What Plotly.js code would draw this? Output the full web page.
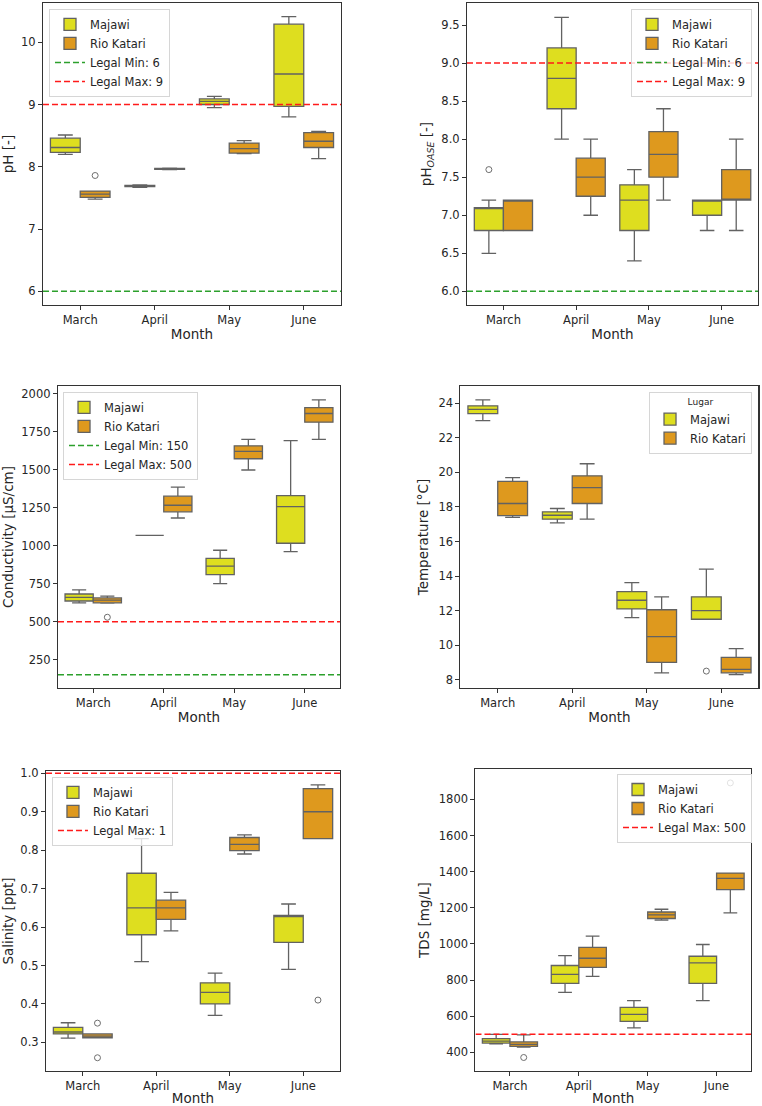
<!DOCTYPE html>
<html>
<head>
<meta charset="utf-8">
<script src="https://cdn.plot.ly/plotly-3.0.1.min.js"></script>
<style>
  html, body { margin: 0; padding: 0; background: #ffffff; }
  #chart { width: 762px; height: 1106px; }
</style>
</head>
<body>
<div id="chart"></div>
<script>
// Water quality by month for the two sampling sites.
const months = ["March", "April", "May", "June"];
const sites = ["Majawi", "Rio Katari"];

// Each row (one per month): [lower whisker, Q1, median, Q3, upper whisker]
const phMajawi = [[8.20, 8.23, 8.31, 8.46, 8.51], [7.67, 7.68, 7.69, 7.70, 7.71], [8.95, 9.00, 9.05, 9.09, 9.13], [8.80, 8.97, 9.49, 10.29, 10.41]];
const phKatari = [[7.48, 7.51, 7.56, 7.61, 7.61], [7.955, 7.96, 7.965, 7.975, 7.98], [8.21, 8.22, 8.29, 8.38, 8.42], [8.13, 8.31, 8.41, 8.55, 8.57]];
const phKatariOutliers = [[0, 7.86]];          // [month index, value]

const oaseMajawi = [[6.5, 6.8, 7.1, 7.1, 7.2], [8.0, 8.4, 8.8, 9.2, 9.6], [6.4, 6.8, 7.2, 7.4, 7.6], [6.8, 7.0, 7.2, 7.2, 7.2]];
const oaseKatari = [[6.8, 6.8, 7.2, 7.2, 7.2], [7.0, 7.25, 7.5, 7.75, 8.0], [7.2, 7.5, 7.8, 8.1, 8.4], [6.8, 7.2, 7.2, 7.6, 8.0]];
const oaseMajawiOutliers = [[0, 7.6]];

const condMajawi = [[623, 636, 660, 682, 709], [1068, 1068, 1068, 1068, 1068], [750, 810, 865, 917, 970], [961, 1016, 1257, 1330, 1692]];
const condKatari = [[622, 624, 641, 656, 668], [1182, 1223, 1266, 1326, 1385], [1498, 1572, 1621, 1657, 1700], [1700, 1813, 1870, 1908, 1960]];
const condKatariOutliers = [[0, 529]];

const tempMajawi = [[23.0, 23.4, 23.65, 23.85, 24.2], [17.08, 17.29, 17.52, 17.72, 17.91], [11.6, 12.1, 12.6, 13.1, 13.62], [11.5, 11.5, 12.0, 12.8, 14.4]];
const tempKatari = [[17.4, 17.5, 18.2, 19.48, 19.7], [17.3, 18.2, 19.12, 19.8, 20.5], [8.4, 9.0, 10.5, 12.05, 12.8], [8.3, 8.4, 8.6, 9.3, 9.8]];
const tempMajawiOutliers = [[3, 8.5]];

const salMajawi = [[0.311, 0.322, 0.327, 0.339, 0.351], [0.51, 0.58, 0.65, 0.74, 0.83], [0.37, 0.40, 0.43, 0.455, 0.48], [0.49, 0.56, 0.63, 0.63, 0.66]];
const salKatari = [[0.312, 0.312, 0.316, 0.322, 0.322], [0.59, 0.62, 0.65, 0.67, 0.69], [0.79, 0.799, 0.815, 0.833, 0.84], [0.83, 0.83, 0.90, 0.96, 0.97]];
const salKatariOutliers = [[0, 0.35], [0, 0.26], [3, 0.41]];

const tdsMajawi = [[448, 452, 463, 476, 500], [732, 782, 832, 881, 935], [536, 572, 611, 649, 687], [687, 782, 895, 932, 997]];
const tdsKatari = [[430, 433, 445, 458, 497], [821, 871, 921, 981, 1043], [1132, 1141, 1161, 1177, 1192], [1172, 1301, 1363, 1392, 1392]];
const tdsKatariOutliers = [[0, 372], [3, 1891]];

// Regulatory limits drawn as dashed reference lines
const phLimits = [6, 9];
const condLimits = [150, 500];
const salLimits = [1];
const tdsLimits = [500];

const siteColors = ["#dede1f", "#de991e"];
const edgeColor = "#626262";
const frameColor = "#333333";
const font = "DejaVu Sans, sans-serif";

const panels = [
  { ax: "", majawi: phMajawi, katari: phKatari, outM: [], outK: phKatariOutliers,
    min: phLimits[0], max: phLimits[1],
    ytitle: "pH [-]", range: [5.78, 10.63], tickvals: [6, 7, 8, 9, 10], fmt: "",
    xdom: [0.0564, 0.4475], ydom: [0.7242, 0.9973] },
  { ax: "2", majawi: oaseMajawi, katari: oaseKatari, outM: oaseMajawiOutliers, outK: [],
    min: phLimits[0], max: phLimits[1],
    ytitle: "pH<sub><i>OASE</i></sub> [-]", range: [5.82, 9.79], tickvals: [6, 6.5, 7, 7.5, 8, 8.5, 9, 9.5], fmt: ".1f",
    xdom: [0.6129, 0.9948], ydom: [0.7242, 0.9973] },
  { ax: "3", majawi: condMajawi, katari: condKatari, outM: [], outK: condKatariOutliers,
    min: condLimits[0], max: condLimits[1],
    ytitle: "Conductivity [µS/cm]", range: [63, 2051], tickvals: [250, 500, 750, 1000, 1250, 1500, 1750, 2000], fmt: "",
    xdom: [0.0761, 0.4462], ydom: [0.3779, 0.6510] },
  { ax: "4", majawi: tempMajawi, katari: tempKatari, outM: tempMajawiOutliers, outK: [],
    min: null, max: null, legendTitle: "Lugar",
    ytitle: "Temperature [°C]", range: [7.52, 25.0], tickvals: [8, 10, 12, 14, 16, 18, 20, 22, 24], fmt: "",
    xdom: [0.6043, 0.9954], ydom: [0.3779, 0.6510] },
  { ax: "5", majawi: salMajawi, katari: salKatari, outM: [], outK: salKatariOutliers,
    min: null, max: salLimits[0],
    ytitle: "Salinity [ppt]", range: [0.2254, 1.006], tickvals: [0.3, 0.4, 0.5, 0.6, 0.7, 0.8, 0.9, 1.0], fmt: ".1f",
    xdom: [0.0604, 0.4462], ydom: [0.0316, 0.3029] },
  { ax: "6", majawi: tdsMajawi, katari: tdsKatari, outM: [], outK: tdsKatariOutliers,
    min: null, max: tdsLimits[0],
    ytitle: "TDS [mg/L]", range: [297, 1968], tickvals: [400, 600, 800, 1000, 1200, 1400, 1600, 1800], fmt: "",
    xdom: [0.6240, 0.9856], ydom: [0.0316, 0.3047] }
];

// Legend anchor per panel (paper coordinates)
const legendPos = [
  { x: 0.0643, y: 0.9919, xanchor: "left" },
  { x: 0.9869, y: 0.9919, xanchor: "right" },
  { x: 0.0827, y: 0.6456, xanchor: "left" },
  { x: 0.9869, y: 0.6456, xanchor: "right" },
  { x: 0.0682, y: 0.2975, xanchor: "left" },
  { x: 0.9869, y: 0.3002, xanchor: "right" }
];

const traces = [];
const layout = {
  width: 762, height: 1106,
  margin: { l: 0, r: 0, t: 0, b: 0 },
  paper_bgcolor: "#ffffff", plot_bgcolor: "#ffffff",
  font: { family: font, size: 11.5, color: "#262626" },
  boxmode: "overlay",
  showlegend: true
};

const offsets = [-0.2, 0.2];

panels.forEach((p, k) => {
  const xa = "x" + p.ax, ya = "y" + p.ax;
  const legendName = k === 0 ? "legend" : "legend" + (k + 1);

  [p.majawi, p.katari].forEach((stats, s) => {
    traces.push({
      type: "box", name: sites[s], xaxis: xa, yaxis: ya, legend: legendName,
      x: months.map((m, i) => i + offsets[s]),
      lowerfence: stats.map(r => r[0]),
      q1: stats.map(r => r[1]),
      median: stats.map(r => r[2]),
      q3: stats.map(r => r[3]),
      upperfence: stats.map(r => r[4]),
      width: 0.4, whiskerwidth: 0.5, boxpoints: false,
      fillcolor: siteColors[s],
      line: { color: edgeColor, width: 1.3 },
      hoverinfo: "skip"
    });
  });

  [p.outM, p.outK].forEach((pts, s) => {
    if (!pts.length) return;
    traces.push({
      type: "scatter", mode: "markers", xaxis: xa, yaxis: ya, showlegend: false,
      x: pts.map(o => o[0] + offsets[s]), y: pts.map(o => o[1]),
      marker: { symbol: "circle-open", size: 6, color: "#6e6e6e", line: { width: 1 } },
      hoverinfo: "skip"
    });
  });

  if (p.min !== null) {
    traces.push({
      type: "scatter", mode: "lines", xaxis: xa, yaxis: ya, legend: legendName,
      name: "Legal Min: " + p.min, x: [-0.5, 3.5], y: [p.min, p.min],
      line: { color: "#2ca02c", width: 1.5, dash: "6px,3px" }, hoverinfo: "skip"
    });
  }
  if (p.max !== null) {
    traces.push({
      type: "scatter", mode: "lines", xaxis: xa, yaxis: ya, legend: legendName,
      name: "Legal Max: " + p.max, x: [-0.5, 3.5], y: [p.max, p.max],
      line: { color: "#ff1a1a", width: 1.5, dash: "6px,3px" }, hoverinfo: "skip"
    });
  }

  const axisCommon = {
    showline: true, mirror: true, linecolor: frameColor, linewidth: 1.1,
    ticks: "outside", ticklen: 4, tickwidth: 1, tickcolor: frameColor,
    showgrid: false, zeroline: false,
    tickfont: { family: font, size: 11.5, color: "#262626" }
  };

  layout["xaxis" + p.ax] = Object.assign({}, axisCommon, {
    domain: p.xdom, anchor: ya, range: [-0.5, 3.5],
    tickvals: months.map((m, i) => i), ticktext: months,
    title: { text: "Month", font: { family: font, size: 13.5, color: "#262626" }, standoff: 3 }
  });
  layout["yaxis" + p.ax] = Object.assign({}, axisCommon, {
    domain: p.ydom, anchor: xa, range: p.range,
    tickvals: p.tickvals, tickformat: p.fmt,
    title: { text: p.ytitle, font: { family: font, size: 13.5, color: "#262626" }, standoff: 6 }
  });

  const lp = legendPos[k];
  const legend = {
    x: lp.x, y: lp.y, xanchor: lp.xanchor, yanchor: "top",
    xref: "paper", yref: "paper",
    bgcolor: "rgba(255,255,255,0.8)", bordercolor: "#d6d6d6", borderwidth: 1,
    font: { family: font, size: 11.5, color: "#262626" },
    itemwidth: 30, tracegroupgap: 0
  };
  if (p.legendTitle) {
    legend.title = { text: p.legendTitle, side: "top center", font: { family: font, size: 9, color: "#262626" } };
  }
  layout[legendName] = legend;
});

Plotly.newPlot("chart", traces, layout, { staticPlot: true, displayModeBar: false });
</script>
</body>
</html>
